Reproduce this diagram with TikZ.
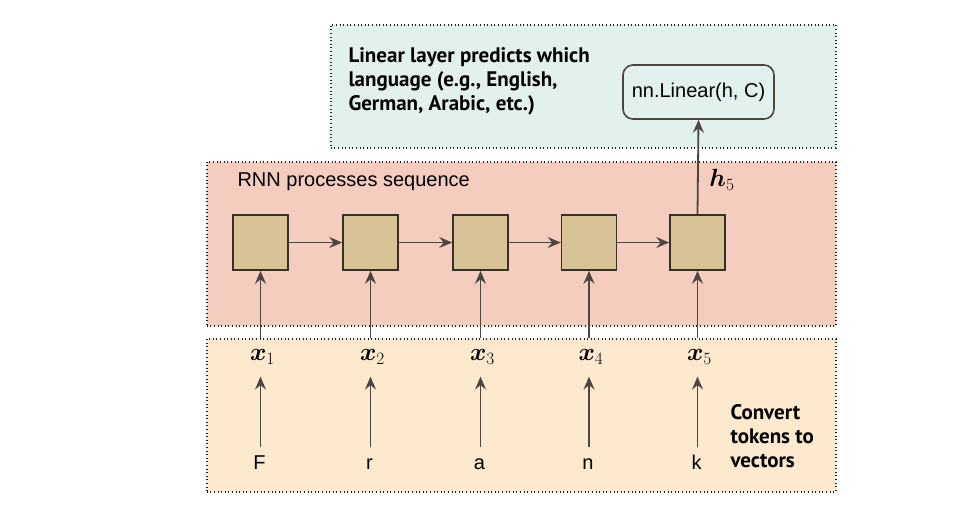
\documentclass[tikz,border=0pt]{standalone}
\usepackage{fontspec}
\usepackage{amsmath,bm}
\setmainfont{Liberation Sans}
\newfontfamily\labelfont{PT Sans}
\usetikzlibrary{arrows.meta,positioning}
\definecolor{topfill}{HTML}{E2F1EE}
\definecolor{redfill}{HTML}{F4CDBF}
\definecolor{botfill}{HTML}{FCE9CE}
\definecolor{cellfill}{HTML}{D8C397}
\definecolor{celledge}{HTML}{3A2E28}
\definecolor{arrcol}{HTML}{4E4541}
\definecolor{dotcol}{HTML}{222222}
\begin{document}
\begin{tikzpicture}[x=1pt,y=-1pt,
  region/.style={draw=dotcol, line width=1.5pt, dash pattern=on 1pt off 2.6pt, anchor=north west, inner sep=0pt},
  cell/.style={draw=celledge, fill=cellfill, line width=1.6pt, minimum width=55pt, minimum height=55pt, inner sep=0pt},
  arr/.style={draw=arrcol, line width=1.8pt, -{Stealth[length=13pt,width=11pt,inset=4.5pt]}},
  reg/.style={font=\fontsize{20}{24}\selectfont},
  lbl/.style={font=\labelfont\bfseries\fontsize{21}{24}\selectfont, align=left},
  xl/.style={font=\fontsize{24}{26}\selectfont, inner sep=2pt},
  tok/.style={font=\fontsize{20}{24}\selectfont, text height=14pt, text depth=4pt, inner sep=3pt}
]
\useasboundingbox (0,0) rectangle (979,504);
% regions
\node[region, fill=topfill, minimum width=505pt, minimum height=123pt] (topr) at (330,24) {};
\node[region, fill=redfill, minimum width=629pt, minimum height=164pt] (redr) at (206,161) {};
\node[region, fill=botfill, minimum width=629pt, minimum height=153pt] (botr) at (206,338) {};
% texts
\node[lbl, anchor=west] (lintxt) at (345,81) {Linear layer predicts which\\language (e.g., English,\\German, Arabic, etc.)};
\node[draw=arrcol, line width=1.6pt, rounded corners=10pt, minimum width=151pt, minimum height=54pt, reg] (lin) at (698.5,92) {nn.Linear(h, C)};
\node[reg, anchor=west] (rnntxt) at (234,182) {RNN processes sequence};
\node[lbl, anchor=west] (convtxt) at (727,436) {Convert\\tokens to\\vectors};
% cells
\foreach \i/\cx in {1/260.5,2/370.5,3/480.5,4/589,5/697.5}{
  \node[cell] (c\i) at (\cx,242.5) {};
}
\foreach \i/\j in {1/2,2/3,3/4,4/5}{
  \draw[arr] (c\i.east) -- (c\j.west);
}
\draw[arr] (c5.north) -- (lin.south);
\node[xl] (h5) at (722,180) {$\bm{h}_5$};
% inputs
\foreach \i/\cx/\t in {1/260.5/F,2/370.5/r,3/480.5/a,4/589/n,5/697.5/k}{
  \node[xl] (x\i) at (\cx+2,357) {$\bm{x}_\i$};
  \node[tok] (t\i) at (\cx-1,464) {\t};
  \draw[arr] (c\i |- botr.north) -- (c\i.south);
  \draw[arr, shorten <=5pt, shorten >=10pt] (c\i |- t\i.north) -- (c\i |- x\i.south);
}
\end{tikzpicture}
\end{document}
